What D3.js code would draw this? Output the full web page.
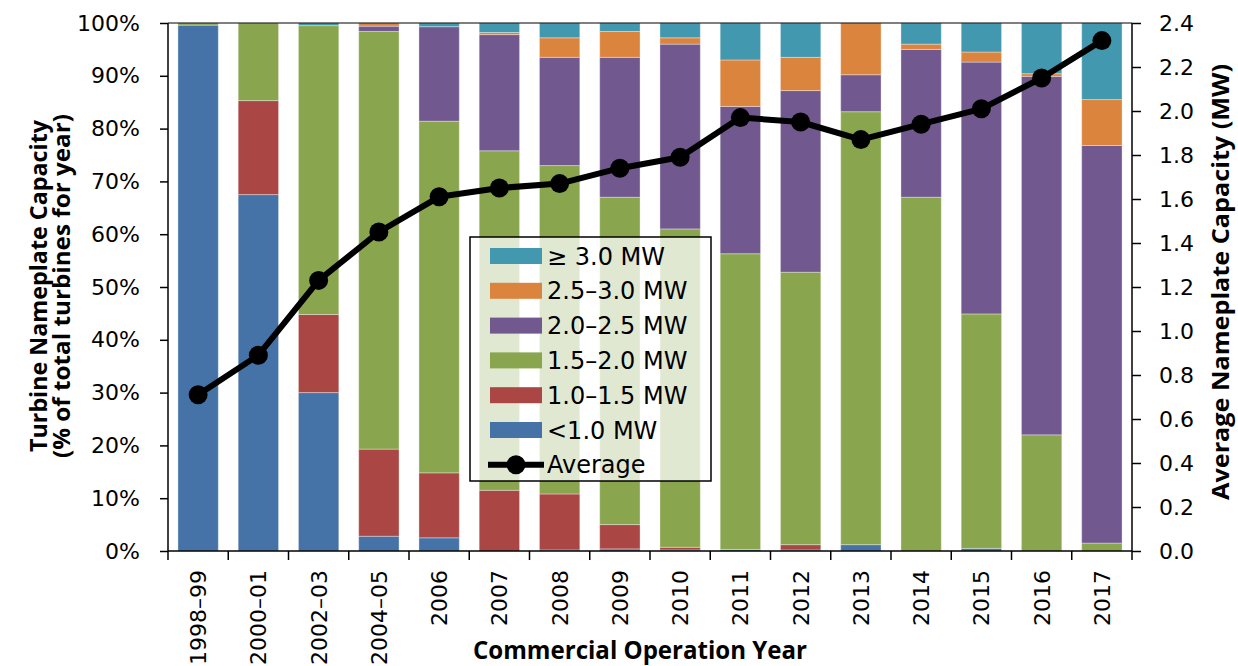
<!DOCTYPE html>
<html>
<head>
<meta charset="utf-8">
<script src="https://cdn.jsdelivr.net/npm/d3@7"></script>
<style>
  body { margin: 0; background: #fff; }
  text { font-family: "DejaVu Sans", Verdana, sans-serif; fill: #000; }
  .title { font-family: "Open Sans", "Liberation Sans", sans-serif; font-weight: bold; }
</style>
</head>
<body>
<div id="chart"></div>
<script>
// categories (commercial operation year)
const years = ['1998–99', '2000–01', '2002–03', '2004–05', '2006', '2007', '2008', '2009',
  '2010', '2011', '2012', '2013', '2014', '2015', '2016', '2017'];

// share of turbines (% of total) per size class, bottom to top
const below10 = [99.6, 67.5, 30.0, 2.8, 2.5, 0.0, 0.2, 0.4, 0.2, 0.3, 0.2, 1.2, 0.0, 0.5, 0.0, 0.0];
const from10to15 = [0.0, 17.8, 14.8, 16.5, 12.3, 11.5, 10.6, 4.6, 0.5, 0.0, 1.0, 0.0, 0.0, 0.0, 0.0, 0.0];
const from15to20 = [0.4, 14.7, 54.7, 79.1, 66.6, 64.3, 62.2, 62.0, 60.3, 56.0, 51.6, 82.0, 67.0, 44.4, 22.0, 1.5];
const from20to25 = [0.0, 0.0, 0.0, 1.0, 17.9, 22.0, 20.5, 26.5, 35.0, 27.9, 34.4, 7.0, 28.0, 47.7, 67.9, 75.3];
const from25to30 = [0.0, 0.0, 0.0, 0.6, 0.0, 0.4, 3.7, 4.9, 1.2, 8.8, 6.3, 9.8, 1.0, 1.9, 0.5, 8.7];
const above30 = [0.0, 0.0, 0.5, 0.0, 0.7, 1.8, 2.8, 1.6, 2.8, 7.0, 6.5, 0.0, 4.0, 5.5, 9.6, 14.5];

// average nameplate capacity (MW)
const average = [0.71, 0.89, 1.23, 1.45, 1.61, 1.65, 1.67, 1.74, 1.79, 1.97, 1.95, 1.87, 1.94, 2.01, 2.15, 2.32];

const series = [
  { key: '<1.0 MW', values: below10, color: '#4572a7' },
  { key: '1.0–1.5 MW', values: from10to15, color: '#aa4643' },
  { key: '1.5–2.0 MW', values: from15to20, color: '#89a54e' },
  { key: '2.0–2.5 MW', values: from20to25, color: '#71588f' },
  { key: '2.5–3.0 MW', values: from25to30, color: '#db843d' },
  { key: '≥ 3.0 MW', values: above30, color: '#4198af' }
];

const leftTicks = [0, 10, 20, 30, 40, 50, 60, 70, 80, 90, 100];
const rightTicks = [0, 0.2, 0.4, 0.6, 0.8, 1.0, 1.2, 1.4, 1.6, 1.8, 2.0, 2.2, 2.4];

const w = 1238, h = 666;
const plotLeft = 168, plotRight = 1132, plotTop = 23, plotBottom = 551;

const svg = d3.select('#chart').append('svg')
  .attr('width', w)
  .attr('height', h);

const x = d3.scaleBand()
  .domain(years)
  .range([plotLeft, plotRight])
  .paddingInner(0.33)
  .paddingOuter(0.165);
const y = d3.scaleLinear().domain([0, 100]).range([plotBottom, plotTop]);
const y2 = d3.scaleLinear().domain([0, 2.4]).range([plotBottom, plotTop]);

// stack the series
const rows = years.map((yr, i) => {
  let row = { year: yr };
  series.forEach(s => { row[s.key] = s.values[i]; });
  return row;
});
const stacked = d3.stack().keys(series.map(s => s.key))(rows);

const bars = svg.append('g').attr('class', 'bars');
stacked.forEach((layer, k) => {
  bars.append('g')
    .selectAll('rect')
    .data(layer)
    .enter()
    .append('rect')
    .attr('x', d => x(d.data.year))
    .attr('width', x.bandwidth())
    .attr('y', d => y(d[1]))
    .attr('height', d => y(d[0]) - y(d[1]))
    .style('fill', series[k].color)
    .style('stroke', '#fff')
    .style('stroke-opacity', 0.35)
    .style('stroke-width', 1);
});

// axes
const axisG = svg.append('g').attr('class', 'axes');
const leftAxis = axisG.append('g')
  .attr('transform', `translate(${plotLeft},0)`)
  .call(d3.axisLeft(y).tickValues(leftTicks).tickSize(8).tickPadding(20)
    .tickFormat(d => d + '%'));
const rightAxis = axisG.append('g')
  .attr('transform', `translate(${plotRight},0)`)
  .call(d3.axisRight(y2).tickValues(rightTicks).tickSize(9).tickPadding(18)
    .tickFormat(d3.format('.1f')));
[leftAxis, rightAxis].forEach(g => {
  g.select('.domain').remove();
  g.selectAll('line').style('stroke', '#000').style('stroke-width', 1.5);
  g.selectAll('text').style('font-size', '22px').style('font-family', '"DejaVu Sans", sans-serif');
});
// vertical axis lines, extend a bit below the baseline
[plotLeft, plotRight].forEach(xx => {
  axisG.append('line')
    .attr('x1', xx).attr('x2', xx)
    .attr('y1', plotTop).attr('y2', plotBottom + 9)
    .style('stroke', '#000').style('stroke-width', 1.5);
});
// top and bottom lines
[plotTop, plotBottom].forEach(yy => {
  axisG.append('line')
    .attr('x1', plotLeft).attr('x2', plotRight)
    .attr('y1', yy).attr('y2', yy)
    .style('stroke', '#000').style('stroke-width', yy == plotTop ? 1 : 1.5);
});
// x ticks at band boundaries
const step = x.step();
for (let i = 1; i < years.length; i++) {
  let xx = x(years[0]) - x.paddingOuter() * step + i * step;
  axisG.append('line')
    .attr('x1', xx).attr('x2', xx)
    .attr('y1', plotBottom).attr('y2', plotBottom + 9)
    .style('stroke', '#000').style('stroke-width', 1.5);
}
// x labels, rotated
axisG.append('g')
  .selectAll('text')
  .data(years)
  .enter()
  .append('text')
  .attr('transform', d => `translate(${x(d) + x.bandwidth() / 2},570) rotate(-90)`)
  .attr('text-anchor', 'end')
  .attr('dy', '0.36em')
  .style('font-size', '22px')
  .text(d => d);

// axis titles
const titles = svg.append('g');
titles.append('text')
  .attr('class', 'title')
  .attr('transform', 'translate(47,286) rotate(-90)')
  .attr('text-anchor', 'middle')
  .attr('textLength', 332)
  .attr('lengthAdjust', 'spacingAndGlyphs')
  .style('font-size', '24px')
  .text('Turbine Nameplate Capacity');
titles.append('text')
  .attr('class', 'title')
  .attr('transform', 'translate(70,286) rotate(-90)')
  .attr('text-anchor', 'middle')
  .attr('textLength', 344)
  .attr('lengthAdjust', 'spacingAndGlyphs')
  .style('font-size', '24px')
  .text('(% of total turbines for year)');
titles.append('text')
  .attr('class', 'title')
  .attr('transform', 'translate(1229,282) rotate(-90)')
  .attr('text-anchor', 'middle')
  .attr('textLength', 436)
  .attr('lengthAdjust', 'spacingAndGlyphs')
  .style('font-size', '24px')
  .text('Average  Nameplate Capacity (MW)');
titles.append('text')
  .attr('class', 'title')
  .attr('x', 640)
  .attr('y', 659)
  .attr('text-anchor', 'middle')
  .attr('textLength', 334)
  .attr('lengthAdjust', 'spacingAndGlyphs')
  .style('font-size', '25px')
  .text('Commercial Operation  Year');

// average line
const line = d3.line()
  .x((d, i) => x(years[i]) + x.bandwidth() / 2)
  .y(d => y2(d));
const avgG = svg.append('g').attr('class', 'average');
avgG.append('path')
  .datum(average)
  .attr('d', line)
  .style('fill', 'none')
  .style('stroke', '#000')
  .style('stroke-width', 6)
  .style('stroke-linejoin', 'round');
avgG.selectAll('circle')
  .data(average)
  .enter()
  .append('circle')
  .attr('cx', (d, i) => x(years[i]) + x.bandwidth() / 2)
  .attr('cy', d => y2(d))
  .attr('r', 9.5)
  .style('fill', '#000');

// legend
const legend = svg.append('g').attr('class', 'legend');
legend.append('rect')
  .attr('x', 470).attr('y', 237)
  .attr('width', 241).attr('height', 244)
  .style('fill', '#fff')
  .style('fill-opacity', 0.75)
  .style('stroke', '#000')
  .style('stroke-width', 1.5);
const legendItems = series.slice().reverse();
const rowGap = 34.8;
legendItems.forEach((s, i) => {
  let cy = 256 + i * rowGap;
  legend.append('rect')
    .attr('x', 490).attr('y', cy - 8)
    .attr('width', 52).attr('height', 16)
    .style('fill', s.color);
  legend.append('text')
    .attr('x', 547).attr('y', cy)
    .attr('dy', '0.36em')
    .style('font-size', '24px')
    .text(s.key);
});
let avgY = 256 + legendItems.length * rowGap;
legend.append('line')
  .attr('x1', 488).attr('x2', 544)
  .attr('y1', avgY).attr('y2', avgY)
  .style('stroke', '#000').style('stroke-width', 6);
legend.append('circle')
  .attr('cx', 516).attr('cy', avgY).attr('r', 9.5)
  .style('fill', '#000');
legend.append('text')
  .attr('x', 547).attr('y', avgY)
  .attr('dy', '0.36em')
  .style('font-size', '24px')
  .text('Average');
</script>
</body>
</html>
